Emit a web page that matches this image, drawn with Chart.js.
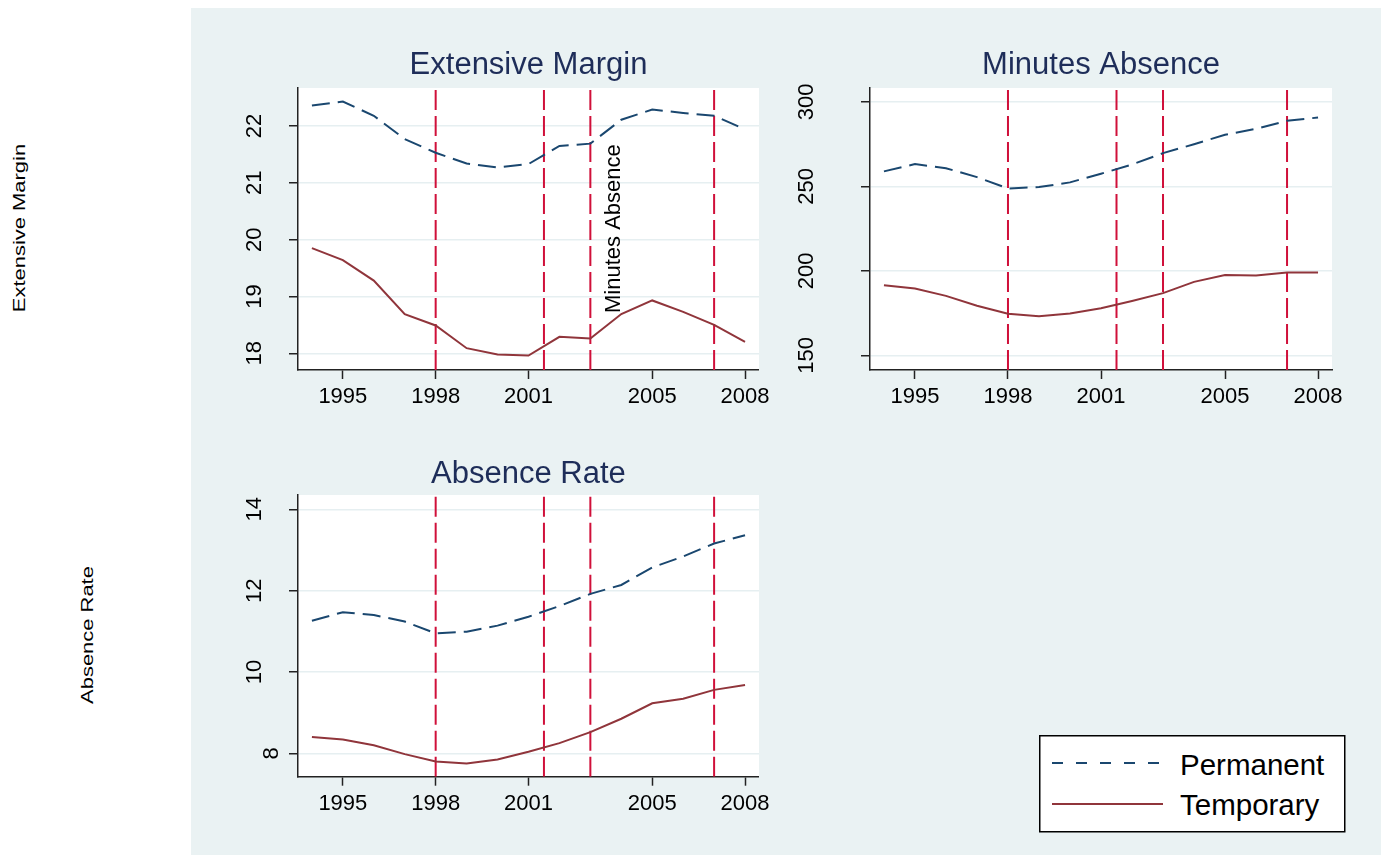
<!DOCTYPE html>
<html>
<head>
<meta charset="utf-8">
<script src="https://cdn.jsdelivr.net/npm/chart.js@4.4.1/dist/chart.umd.min.js"></script>
<style>
  html, body { margin: 0; padding: 0; background: #ffffff; width: 1381px; height: 855px; overflow: hidden;
    font-family: 'Liberation Sans', Arial, sans-serif; }
  #bg { position: absolute; left: 191px; top: 8px; width: 1190px; height: 847px; background: #eaf2f3; }
  canvas { position: absolute; }
  .ylab { position: absolute; white-space: nowrap; font-size: 16.5px; line-height: 20px; height: 20px; width: 200px;
    text-align: center; color: #000; transform: rotate(-90deg) scaleX(1.33); }
  #legend { position: absolute; left: 1039px; top: 735px; }
</style>
</head>
<body>
<div id="bg"></div>
<div class="ylab" style="left:-80.8px; top:217.5px;">Extensive Margin</div>
<div class="ylab" style="left:-13px; top:625px;">Absence Rate</div>
<canvas id="c1" width="584" height="420" style="left:191px; top:8px;"></canvas>
<canvas id="c2" width="598" height="420" style="left:775px; top:8px;"></canvas>
<canvas id="c3" width="584" height="420" style="left:191px; top:430px;"></canvas>
<svg id="legend" width="307" height="98"></svg>
<script>
// ---------- data ----------
const years = [1994, 1995, 1996, 1997, 1998, 1999, 2000, 2001, 2002, 2003, 2004, 2005, 2006, 2007, 2008];
const seriesNames = ['Permanent', 'Temporary'];
const panelTitles = ['Extensive Margin', 'Minutes Absence', 'Absence Rate'];

const extPermanent = [22.36, 22.43, 22.18, 21.77, 21.53, 21.34, 21.27, 21.33, 21.65, 21.69, 22.11, 22.29, 22.23, 22.18, 21.94];
const extTemporary = [19.85, 19.64, 19.28, 18.69, 18.49, 18.09, 17.98, 17.96, 18.29, 18.26, 18.69, 18.93, 18.73, 18.50, 18.20];

const minPermanent = [258.9, 263.2, 260.8, 255.5, 248.8, 249.6, 252.4, 257.5, 263.0, 269.7, 275.0, 280.6, 284.1, 288.9, 290.8];
const minTemporary = [191.5, 189.5, 185.2, 179.3, 174.6, 173.2, 174.8, 177.9, 182.2, 186.8, 193.5, 197.6, 197.2, 199.0, 199.0];

const ratePermanent = [11.26, 11.47, 11.40, 11.24, 10.95, 10.99, 11.14, 11.36, 11.62, 11.92, 12.14, 12.57, 12.84, 13.16, 13.36];
const rateTemporary = [8.40, 8.34, 8.20, 7.98, 7.80, 7.75, 7.85, 8.04, 8.25, 8.52, 8.85, 9.23, 9.34, 9.56, 9.68];

const eventYears = [1998, 2001.5, 2003, 2007];

const xTicks = [1995, 1998, 2001, 2005, 2008];
const extTicks = [18, 19, 20, 21, 22];
const minTicks = [150, 200, 250, 300];
const rateTicks = [8, 10, 12, 14];

const annotText = 'Minutes Absence';
const annotPos = [2003.95, 18.71];

// ---------- styling ----------
const FONT = "'Liberation Sans', Arial, sans-serif";
const navy = '#1a476f';
const maroon = '#90353b';
const red = '#d0103a';
const axisColor = '#222222';
const gridColor = '#e6eff1';
const titleColor = '#1e2d59';
const X_MIN = 1993.55, X_MAX = 2008.45;

const plotBg = {
  id: 'plotBg',
  beforeDraw(chart) {
    const { ctx, chartArea: a } = chart;
    ctx.save();
    ctx.fillStyle = '#ffffff';
    ctx.fillRect(a.left, a.top, a.right - a.left, a.bottom - a.top);
    ctx.restore();
  }
};

function annotationPlugin(text, pos) {
  return {
    id: 'annot',
    afterDatasetsDraw(chart) {
      const { ctx, scales } = chart;
      const px = scales.x.getPixelForValue(pos[0]);
      const py = scales.y.getPixelForValue(pos[1]);
      ctx.save();
      ctx.translate(px, py);
      ctx.rotate(-Math.PI / 2);
      ctx.font = "22px " + FONT;
      ctx.fillStyle = '#000';
      ctx.textAlign = 'left';
      ctx.textBaseline = 'alphabetic';
      ctx.fillText(text, 0, 0);
      ctx.restore();
    }
  };
}

function makePanel(id, cfg) {
  const maxLen = Math.max(...cfg.yTicks.map(v => String(v).length));
  const datasets = [
    { label: seriesNames[0], data: years.map((x, i) => ({ x, y: cfg.perm[i] })),
      borderColor: navy, borderDash: [18, 8], borderWidth: 2, pointRadius: 0, tension: 0, order: 0, fill: false },
    { label: seriesNames[1], data: years.map((x, i) => ({ x, y: cfg.temp[i] })),
      borderColor: maroon, borderWidth: 2, pointRadius: 0, tension: 0, order: 0, fill: false },
    ...eventYears.map(e => ({ label: 'event ' + e, data: [{ x: e, y: cfg.yMin }, { x: e, y: cfg.yMax }],
      borderColor: red, borderDash: [20, 6], borderWidth: 2, pointRadius: 0, order: 1, fill: false }))
  ];
  const plugins = [plotBg];
  if (cfg.annot) plugins.push(cfg.annot);
  return new Chart(document.getElementById(id), {
    type: 'line',
    data: { datasets },
    options: {
      responsive: false, animation: false, devicePixelRatio: 1,
      layout: { padding: { left: 0, right: cfg.padRight, top: 0, bottom: cfg.padBottom } },
      plugins: {
        legend: { display: false },
        tooltip: { enabled: false },
        title: { display: true, text: cfg.title, fullSize: false, color: titleColor,
          font: { family: FONT, size: 31, weight: 'normal', lineHeight: 1.2 },
          padding: { top: cfg.titleTop, bottom: cfg.titleBottom } }
      },
      scales: {
        x: {
          type: 'linear', min: X_MIN, max: X_MAX,
          afterBuildTicks: s => { s.ticks = xTicks.map(v => ({ value: v })); },
          afterFit: s => { s.height = 50; },
          grid: { drawOnChartArea: false, drawTicks: true, tickLength: 9, tickColor: axisColor, tickWidth: 1.5 },
          border: { display: true, color: axisColor, width: 1.5 },
          ticks: { color: '#000', font: { family: FONT, size: 22 }, padding: 5, maxRotation: 0, autoSkip: false,
            callback: v => String(v) }
        },
        y: {
          type: 'linear', min: cfg.yMin, max: cfg.yMax,
          afterBuildTicks: s => { s.ticks = cfg.yTicks.map(v => ({ value: v })); },
          afterFit: s => { s.width = cfg.yWidth; },
          grid: { color: gridColor, lineWidth: 1.5, drawTicks: true, tickLength: 9, tickColor: axisColor, tickWidth: 1.5 },
          border: { display: true, color: axisColor, width: 1.5 },
          ticks: { color: '#000', font: { family: FONT, size: 22, lineHeight: 1.55 }, minRotation: 90, maxRotation: 90,
            crossAlign: 'center', padding: cfg.yPad, autoSkip: false,
            callback: v => { const s = String(v); return s.length < maxLen ? ['', s] : s; } }
        }
      }
    },
    plugins
  });
}

Chart.defaults.font.family = FONT;

makePanel('c1', { title: panelTitles[0], perm: extPermanent, temp: extTemporary, yMin: 17.706, yMax: 22.669,
  yTicks: extTicks, yWidth: 107, yPad: 22.3, padRight: 15, padBottom: 8, titleTop: 38.7, titleBottom: 4.1,
  annot: annotationPlugin(annotText, annotPos) });
makePanel('c2', { title: panelTitles[1], perm: minPermanent, temp: minTemporary, yMin: 141.3, yMax: 308.28,
  yTicks: minTicks, yWidth: 95, yPad: 35.6, padRight: 41, padBottom: 8, titleTop: 38.7, titleBottom: 4.1 });
makePanel('c3', { title: panelTitles[2], perm: ratePermanent, temp: rateTemporary, yMin: 7.425, yMax: 14.352,
  yTicks: rateTicks, yWidth: 107, yPad: 22.3, padRight: 15, padBottom: 23.3, titleTop: 25.6, titleBottom: 2.2 });

// ---------- legend ----------
(function buildLegend() {
  const svg = document.getElementById('legend');
  const NS = 'http://www.w3.org/2000/svg';
  const items = [
    { name: seriesNames[0], color: navy, dash: '11 13', y: 28, ty: 40 },
    { name: seriesNames[1], color: maroon, dash: null, y: 69, ty: 80 }
  ];
  const rect = document.createElementNS(NS, 'rect');
  rect.setAttribute('x', '0.75'); rect.setAttribute('y', '0.75');
  rect.setAttribute('width', '305'); rect.setAttribute('height', '96');
  rect.setAttribute('fill', '#ffffff'); rect.setAttribute('stroke', '#000'); rect.setAttribute('stroke-width', '1.5');
  svg.appendChild(rect);
  items.forEach(it => {
    const l = document.createElementNS(NS, 'line');
    l.setAttribute('x1', '13'); l.setAttribute('x2', '124');
    l.setAttribute('y1', it.y); l.setAttribute('y2', it.y);
    l.setAttribute('stroke', it.color); l.setAttribute('stroke-width', '2');
    if (it.dash) l.setAttribute('stroke-dasharray', it.dash);
    svg.appendChild(l);
    const t = document.createElementNS(NS, 'text');
    t.setAttribute('x', '141'); t.setAttribute('y', it.ty);
    t.setAttribute('font-size', '29.5'); t.setAttribute('font-family', "Liberation Sans, Arial, sans-serif");
    t.setAttribute('fill', '#000');
    t.textContent = it.name;
    svg.appendChild(t);
  });
})();
</script>
</body>
</html>
